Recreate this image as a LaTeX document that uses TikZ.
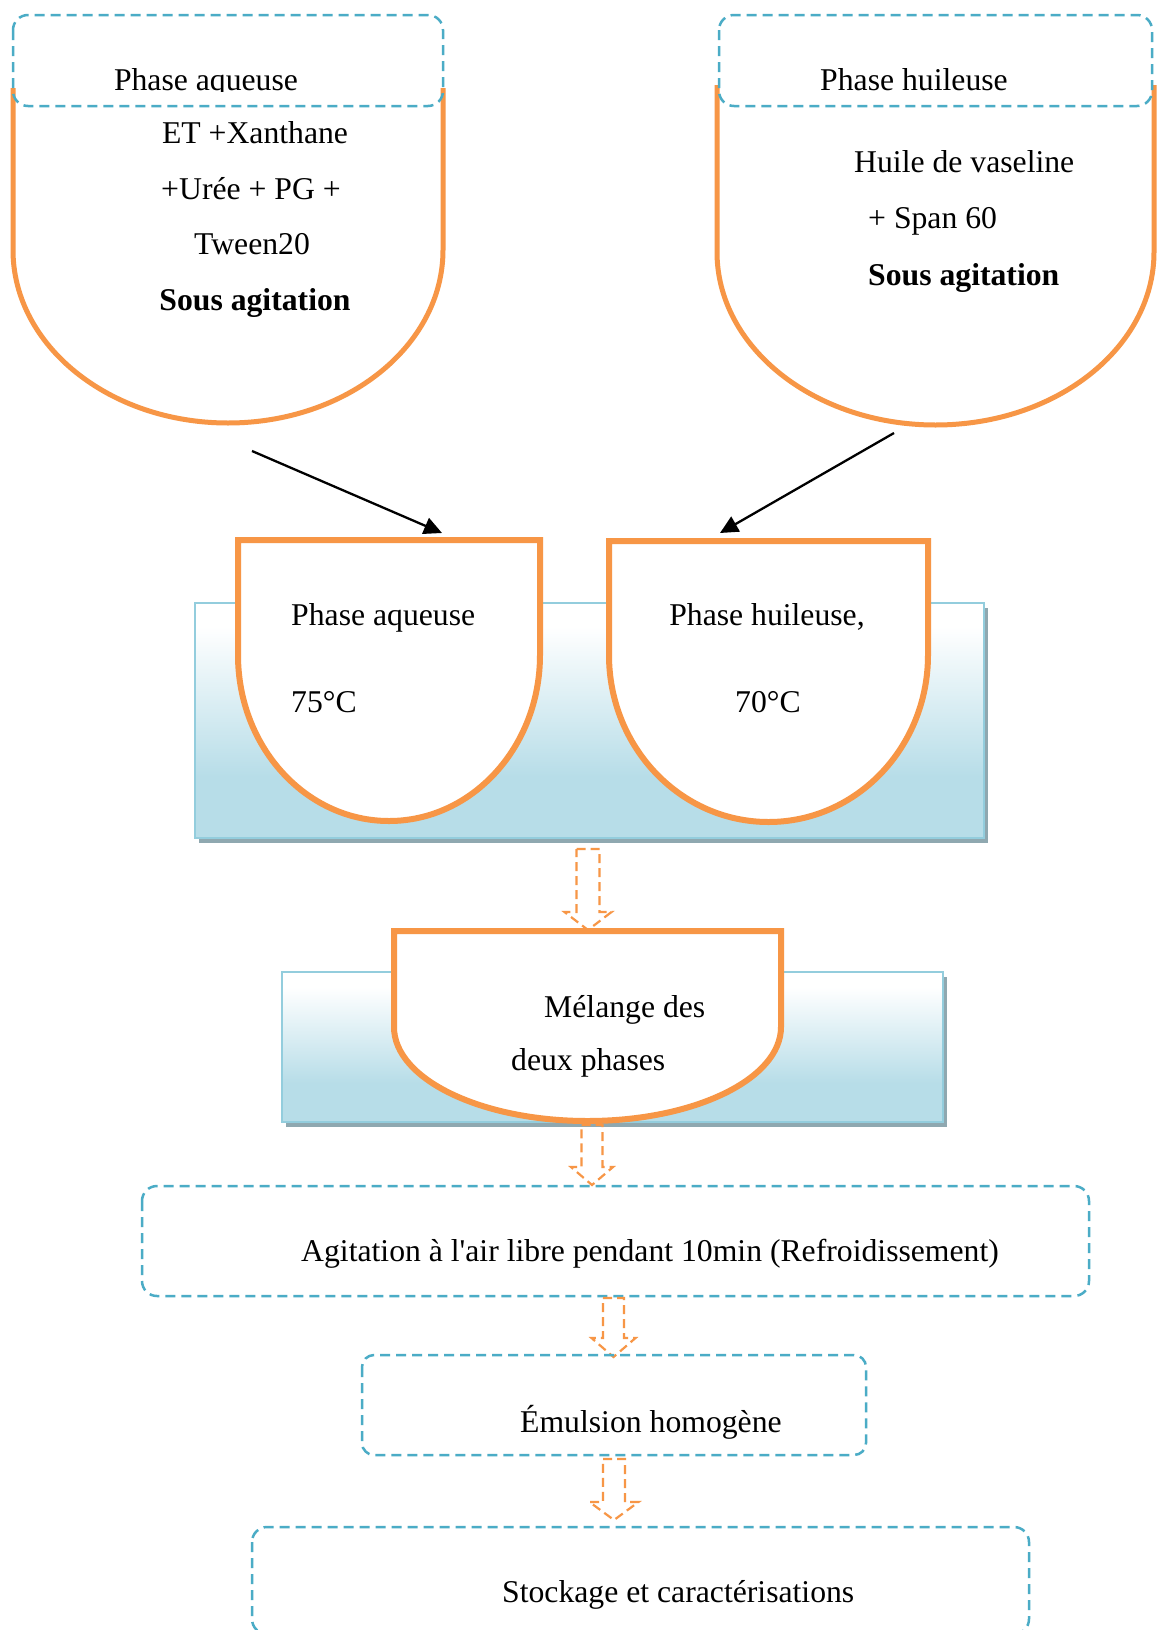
\documentclass[tikz,border=0pt]{standalone}
\usepackage{fontspec}
\setmainfont{Liberation Serif}
\usetikzlibrary{arrows.meta}

\definecolor{potorange}{HTML}{F79646}
\definecolor{dashblue}{HTML}{4BACC6}
\definecolor{bathblue}{HTML}{B7DDE8}
\definecolor{bathedge}{HTML}{93CDDD}
\definecolor{bathshadow}{HTML}{8FA8B0}

% water bath: white at the top, fading to light blue towards the bottom
\pgfdeclareverticalshading{bathfade}{100bp}{color(0bp)=(bathblue); color(25bp)=(bathblue); color(38bp)=(bathblue); color(70bp)=(white); color(100bp)=(white)}

\tikzset{
  txt/.style={anchor=base west, inner sep=0pt, font=\fontsize{31.7}{38}\selectfont},
  txtc/.style={txt, anchor=base},
  txtb/.style={txt, font=\fontsize{31.7}{38}\selectfont\bfseries},
  pot/.style={draw=potorange, line width=5pt},
  vessel/.style={draw=potorange, line width=6pt, fill=white},
  dashbox/.style={draw=dashblue, line width=2.5pt, dash pattern=on 10pt off 6pt, rounded corners=15pt},
  bath/.style={draw=bathedge, line width=2.5pt, shading=bathfade},
  hollow/.style={draw=potorange, line width=2.2pt, dash pattern=on 9pt off 5pt, line join=miter},
  feed/.style={line width=2.3pt, -{Triangle[length=18pt,width=17pt]}},
}

% dashed hollow arrow pointing down:
% #1 centre x, #2 top y, #3 head base y, #4 tip y, #5 shaft half width, #6 head half width
\newcommand\hollowdown[6]{%
  \draw[hollow] (#1-#5,-#2) -- (#1+#5,-#2) -- (#1+#5,-#3) -- (#1+#6,-#3)
    -- (#1,-#4) -- (#1-#6,-#3) -- (#1-#5,-#3) -- cycle;}

\begin{document}
\begin{tikzpicture}[x=1pt,y=1pt]
\useasboundingbox (0,0) rectangle (1158,-1630);
\clip (0,0) rectangle (1158,-1630);
\fill[white] (0,0) rectangle (1158,-1630);

% ---------- preparation vessels ----------
\draw[pot] (13,-88) -- (13,-250) arc[start angle=180, end angle=360, x radius=215pt, y radius=173pt] -- (443,-88);
\draw[pot] (717,-85) -- (717,-252) arc[start angle=180, end angle=360, x radius=218.5pt, y radius=173pt] -- (1154,-85);

\draw[dashbox] (13,-15) rectangle (443,-106);
\draw[dashbox] (719,-15) rectangle (1152,-106);

\begin{scope}
  \clip (0,0) rectangle (1158,-91);
  \node[txtc] (aqTitle) at (206,-90) {Phase aqueuse};
  \node[txtc] (olTitle) at (914,-90) {Phase huileuse};
\end{scope}

\node[txtc] (aqL1) at (255,-143) {ET +Xanthane};
\node[txtc] (aqL2) at (251,-199) {+Urée + PG +};
\node[txtc] (aqL3) at (252,-254) {Tween20};
\node[txtb, anchor=base] (aqL4) at (255,-310) {Sous agitation};

\node[txt] (olL1) at (854,-172) {Huile de vaseline};
\node[txt] (olL2) at (868,-228) {+ Span 60};
\node[txtb] (olL3) at (868,-285) {Sous agitation};

% ---------- feed arrows ----------
\coordinate (aqFrom) at (252,-451);
\coordinate (aqTo) at (442,-533);
\coordinate (olFrom) at (894,-433);
\coordinate (olTo) at (720,-533);
\draw[feed] (aqFrom) -- (aqTo);
\draw[feed] (olFrom) -- (olTo);

% ---------- heating bath ----------
\fill[bathshadow] (199,-608) rectangle (988,-843);
\draw[bath] (195,-603) rectangle (984,-838);

\draw[vessel] (238,-540) -- (238,-655) arc[start angle=180, end angle=360, x radius=151pt, y radius=166pt] -- (540,-540) -- cycle;
\draw[vessel] (609,-541) -- (609,-655) arc[start angle=180, end angle=360, x radius=159.5pt, y radius=167pt] -- (928,-541) -- cycle;

\node[txt] (aqHot) at (291,-625) {Phase aqueuse};
\node[txt] (aqTemp) at (291,-712) {75°C};
\node[txtc] (olHot) at (767,-625) {Phase huileuse,};
\node[txtc] (olTemp) at (768,-712) {70°C};

\hollowdown{588}{849}{912}{930}{11.5}{23.5}

% ---------- mixing ----------
\fill[bathshadow] (286,-977) rectangle (947,-1127);
\draw[bath] (282,-972) rectangle (943,-1122);
\draw[vessel] (394,-931) -- (394,-1027) arc[start angle=180, end angle=360, x radius=193.5pt, y radius=94pt] -- (781,-931) -- cycle;

\node[txt] (mixA) at (544,-1017) {Mélange des};
\node[txt] (mixB) at (511,-1070) {deux phases};

\hollowdown{592}{1125}{1167}{1185}{10.5}{21}

% ---------- following steps ----------
\draw[dashbox] (142,-1186) rectangle (1089,-1296);
\node[txt] (cool) at (301,-1261) {Agitation à l\textquotesingle air libre pendant 10min (Refroidissement)};

\hollowdown{613.5}{1298}{1338}{1357}{10.5}{22}

\draw[dashbox, rounded corners=12pt] (362,-1355) rectangle (866,-1455);
\node[txt] (emul) at (520,-1432) {Émulsion homogène};

\hollowdown{614}{1459}{1502}{1520}{11}{24.5}

\draw[dashbox] (252,-1527) rectangle (1029,-1634);
\node[txt] (store) at (502,-1602) {Stockage et caractérisations};
\end{tikzpicture}
\end{document}
